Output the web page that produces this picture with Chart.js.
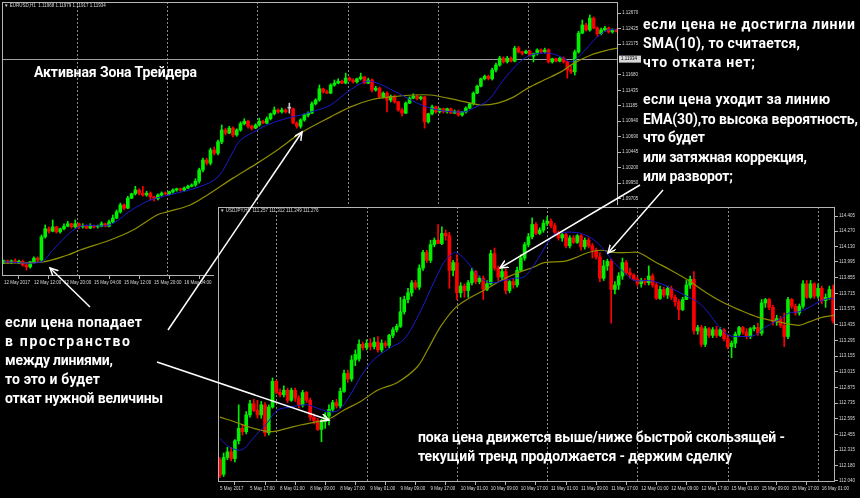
<!DOCTYPE html>
<html>
<head>
<meta charset="utf-8">
<script src="https://cdn.jsdelivr.net/npm/chart.js@4.4.1/dist/chart.umd.min.js"></script>
<style>
  html, body { margin: 0; padding: 0; background: #000; }
  #wrap { position: relative; width: 860px; height: 498px; overflow: hidden; background: #000; }
  #eur { position: absolute; left: 0; top: 0; }
  #jpy { position: absolute; left: 214px; top: 205px; background: #000; }
  #notes { position: absolute; left: 0; top: 0; }
  #notes text { font-family: Roboto, sans-serif; font-weight: 700; font-size: 14px; fill: #fff; }
</style>
</head>
<body>
<div id="wrap">
  <canvas id="eur" width="662" height="292"></canvas>
  <canvas id="jpy" width="646" height="293"></canvas>
  <svg id="notes" width="860" height="498">
    <defs>
      <marker id="head" markerWidth="10" markerHeight="10" refX="8" refY="4" orient="auto" markerUnits="userSpaceOnUse">
        <path d="M0,0 L8,4 L0,8" fill="none" stroke="#fff" stroke-width="1.5"/>
      </marker>
    </defs>
    <g stroke="#fff" stroke-width="1.5" marker-end="url(#head)">
      <line x1="90" y1="307" x2="50" y2="268"/>
      <line x1="168" y1="330" x2="302" y2="132"/>
      <line x1="157" y1="362" x2="329" y2="420"/>
      <line x1="640" y1="185" x2="500" y2="268"/>
      <line x1="663" y1="190" x2="608" y2="253"/>
    </g>
    <text x="34" y="77" textLength="163" lengthAdjust="spacing">Активная Зона Трейдера</text>

    <text x="643" y="29" textLength="212" lengthAdjust="spacing">если цена не достигла линии</text>
    <text x="643" y="48" textLength="157" lengthAdjust="spacing">SMA(10), то считается,</text>
    <text x="643" y="67" textLength="112" lengthAdjust="spacing">что отката нет;</text>
    <text x="643" y="104" textLength="187" lengthAdjust="spacing">если цена уходит за линию</text>
    <text x="643" y="124" textLength="215" lengthAdjust="spacing">EMA(30),то высока вероятность,</text>
    <text x="643" y="142" textLength="62" lengthAdjust="spacing">что будет</text>
    <text x="643" y="162" textLength="164" lengthAdjust="spacing">или затяжная коррекция,</text>
    <text x="643" y="181" textLength="90" lengthAdjust="spacing">или разворот;</text>

    <text x="5" y="327" textLength="137" lengthAdjust="spacing">если цена попадает</text>
    <text x="5" y="346" textLength="125" lengthAdjust="spacing">в пространство</text>
    <text x="5" y="365" textLength="108" lengthAdjust="spacing">между линиями,</text>
    <text x="5" y="384" textLength="95" lengthAdjust="spacing">то это и будет</text>
    <text x="5" y="403" textLength="158" lengthAdjust="spacing">откат нужной величины</text>

    <text x="418" y="442" textLength="367" lengthAdjust="spacing">пока цена движется выше/ниже быстрой скользящей -</text>
    <text x="418" y="461" textLength="314" lengthAdjust="spacing">текущий тренд продолжается - держим сделку</text>
  </svg>
</div>
<script>
// EURUSD H1, one value per bar
const eurOpen = [
  1.0869,1.0870,1.0869,1.0870,1.0867,1.0870,1.0864,1.0861,1.0869,1.0875,
  1.0872,1.0909,1.0922,1.0918,1.0925,1.0917,1.0922,1.0926,1.0930,1.0925,
  1.0930,1.0925,1.0926,1.0923,1.0926,1.0925,1.0926,1.0930,1.0926,1.0933,
  1.0939,1.0949,1.0960,1.0955,1.0971,1.0978,1.0984,1.0979,1.0976,1.0979,
  1.0973,1.0970,1.0976,1.0979,1.0978,1.0981,1.0984,1.0986,1.0984,1.0987,
  1.0990,1.0992,1.0998,1.1016,1.1032,1.1027,1.1048,1.1043,1.1061,1.1080,
  1.1075,1.1083,1.1072,1.1080,1.1090,1.1094,1.1086,1.1083,1.1088,1.1094,
  1.1091,1.1098,1.1106,1.1112,1.1109,1.1112,1.1115,1.1114,1.1091,1.1086,
  1.1096,1.1104,1.1107,1.1122,1.1128,1.1146,1.1141,1.1139,1.1152,1.1155,
  1.1158,1.1155,1.1163,1.1160,1.1157,1.1162,1.1165,1.1155,1.1160,1.1144,
  1.1147,1.1133,1.1139,1.1128,1.1134,1.1125,1.1112,1.1107,1.1123,1.1131,
  1.1134,1.1130,1.1133,1.1093,1.1106,1.1117,1.1109,1.1114,1.1109,1.1114,
  1.1107,1.1110,1.1104,1.1109,1.1115,1.1122,1.1139,1.1150,1.1162,1.1166,
  1.1162,1.1176,1.1184,1.1195,1.1189,1.1195,1.1190,1.1211,1.1205,1.1203,
  1.1206,1.1198,1.1202,1.1208,1.1205,1.1208,1.1189,1.1194,1.1190,1.1195,
  1.1189,1.1176,1.1173,1.1205,1.1235,1.1248,1.1240,1.1259,1.1243,1.1234,
  1.1240,1.1243,1.1237,1.1240
];
const eurHigh = [
  1.0872,1.0872,1.0872,1.0874,1.0872,1.0872,1.0866,1.0870,1.0877,1.0877,
  1.0912,1.0928,1.0925,1.0936,1.0926,1.0923,1.0930,1.0934,1.0931,1.0936,
  1.0931,1.0930,1.0928,1.0930,1.0928,1.0928,1.0933,1.0931,1.0936,1.0944,
  1.0952,1.0963,1.0962,1.0974,1.0979,1.0990,1.0986,1.0990,1.0982,1.0981,
  1.0974,1.0978,1.0981,1.0981,1.0982,1.0986,1.0987,1.0987,1.0989,1.0992,
  1.0994,1.1002,1.1019,1.1035,1.1035,1.1051,1.1053,1.1064,1.1088,1.1083,
  1.1086,1.1085,1.1082,1.1093,1.1098,1.1096,1.1088,1.1090,1.1099,1.1096,
  1.1101,1.1107,1.1117,1.1114,1.1115,1.1114,1.1123,1.1115,1.1093,1.1098,
  1.1106,1.1109,1.1125,1.1130,1.1152,1.1147,1.1144,1.1154,1.1160,1.1162,
  1.1160,1.1171,1.1165,1.1162,1.1163,1.1171,1.1166,1.1163,1.1162,1.1150,
  1.1149,1.1141,1.1141,1.1136,1.1136,1.1126,1.1115,1.1125,1.1133,1.1138,
  1.1136,1.1134,1.1134,1.1107,1.1120,1.1118,1.1115,1.1115,1.1115,1.1115,
  1.1112,1.1112,1.1110,1.1117,1.1123,1.1141,1.1152,1.1163,1.1168,1.1168,
  1.1179,1.1187,1.1198,1.1197,1.1198,1.1197,1.1214,1.1214,1.1206,1.1208,
  1.1208,1.1203,1.1210,1.1210,1.1211,1.1210,1.1195,1.1195,1.1197,1.1197,
  1.1190,1.1182,1.1208,1.1238,1.1256,1.1251,1.1264,1.1261,1.1245,1.1243,
  1.1246,1.1245,1.1242,1.1242
];
const eurLow = [
  1.0866,1.0867,1.0866,1.0867,1.0866,1.0862,1.0856,1.0859,1.0867,1.0869,
  1.0870,1.0907,1.0915,1.0917,1.0915,1.0915,1.0920,1.0925,1.0923,1.0923,
  1.0922,1.0923,1.0922,1.0922,1.0923,1.0923,1.0925,1.0925,1.0925,1.0931,
  1.0938,1.0947,1.0952,1.0954,1.0970,1.0976,1.0976,1.0974,1.0974,1.0968,
  1.0966,1.0968,1.0974,1.0976,1.0976,1.0979,1.0982,1.0982,1.0982,1.0986,
  1.0989,1.0990,1.0995,1.1013,1.1024,1.1024,1.1040,1.1040,1.1058,1.1072,
  1.1074,1.1069,1.1070,1.1078,1.1088,1.1083,1.1080,1.1082,1.1086,1.1090,
  1.1090,1.1096,1.1104,1.1107,1.1107,1.1107,1.1107,1.1090,1.1083,1.1083,
  1.1094,1.1101,1.1106,1.1120,1.1126,1.1139,1.1138,1.1138,1.1150,1.1154,
  1.1154,1.1154,1.1158,1.1155,1.1155,1.1160,1.1154,1.1154,1.1141,1.1142,
  1.1131,1.1131,1.1109,1.1125,1.1123,1.1110,1.1102,1.1106,1.1122,1.1130,
  1.1128,1.1128,1.1083,1.1091,1.1104,1.1107,1.1107,1.1107,1.1107,1.1106,
  1.1106,1.1102,1.1102,1.1107,1.1114,1.1120,1.1138,1.1149,1.1160,1.1160,
  1.1160,1.1173,1.1182,1.1187,1.1187,1.1189,1.1189,1.1203,1.1200,1.1202,
  1.1198,1.1189,1.1200,1.1203,1.1203,1.1187,1.1187,1.1189,1.1189,1.1187,
  1.1163,1.1170,1.1168,1.1203,1.1234,1.1238,1.1238,1.1242,1.1230,1.1232,
  1.1238,1.1235,1.1235,1.1237
];
const eurClose = [
  1.0870,1.0869,1.0870,1.0869,1.0870,1.0864,1.0861,1.0869,1.0875,1.0872,
  1.0909,1.0922,1.0918,1.0925,1.0917,1.0922,1.0926,1.0930,1.0925,1.0930,
  1.0925,1.0926,1.0923,1.0926,1.0925,1.0926,1.0930,1.0926,1.0933,1.0939,
  1.0949,1.0960,1.0955,1.0971,1.0978,1.0984,1.0979,1.0976,1.0979,1.0973,
  1.0970,1.0976,1.0979,1.0978,1.0981,1.0984,1.0986,1.0984,1.0987,1.0990,
  1.0992,1.0998,1.1016,1.1032,1.1027,1.1048,1.1043,1.1061,1.1080,1.1075,
  1.1083,1.1072,1.1080,1.1090,1.1094,1.1086,1.1083,1.1088,1.1094,1.1091,
  1.1098,1.1106,1.1112,1.1109,1.1112,1.1109,1.1115,1.1091,1.1086,1.1096,
  1.1104,1.1107,1.1122,1.1128,1.1146,1.1141,1.1139,1.1152,1.1155,1.1158,
  1.1155,1.1163,1.1160,1.1157,1.1162,1.1165,1.1155,1.1160,1.1144,1.1147,
  1.1133,1.1139,1.1128,1.1134,1.1125,1.1112,1.1107,1.1123,1.1131,1.1134,
  1.1130,1.1133,1.1093,1.1106,1.1117,1.1109,1.1114,1.1109,1.1114,1.1107,
  1.1110,1.1104,1.1109,1.1115,1.1122,1.1139,1.1150,1.1162,1.1166,1.1162,
  1.1176,1.1184,1.1195,1.1189,1.1195,1.1190,1.1211,1.1205,1.1203,1.1206,
  1.1200,1.1202,1.1208,1.1205,1.1208,1.1189,1.1194,1.1190,1.1195,1.1189,
  1.1176,1.1173,1.1205,1.1235,1.1248,1.1240,1.1259,1.1243,1.1234,1.1240,
  1.1243,1.1237,1.1240,1.1238
];
// moving averages: [bar, value]
const eurSma10 = [
  [0,1.0869],[10,1.0869],[13,1.0888],[20,1.0925],[28,1.0928],[34,1.0952],[39,1.0968],[44,1.0976],
  [52,1.0989],[57,1.1005],[61,1.1045],[63,1.1064],[67.5,1.1080],[70,1.1088],[75.5,1.1099],[79,1.1104],
  [83.5,1.1112],[87,1.1120],[91.5,1.1141],[96,1.1157],[98.5,1.1157],[105,1.1139],[110,1.1123],
  [115.5,1.1112],[122.5,1.1109],[125,1.1115],[129,1.1128],[133,1.1160],[137,1.1187],[140.3,1.1200],
  [145,1.1203],[148.3,1.1197],[151,1.1189],[153,1.1197],[155.5,1.1213],[158,1.1229],[160.8,1.1240],[163,1.1240]
];
const eurEma30 = [
  [0,1.0867],[10.4,1.0869],[17,1.0880],[20.3,1.0888],[28.3,1.0904],[34.4,1.0920],[40.8,1.0944],
  [43.5,1.0949],[49.6,1.0960],[54.2,1.0976],[61,1.1003],[67.5,1.1027],[72.8,1.1048],[79,1.1075],
  [87,1.1101],[92.3,1.1117],[97.6,1.1128],[103,1.1133],[109,1.1136],[113.6,1.1136],[118.2,1.1131],
  [124.3,1.1123],[127,1.1120],[131.5,1.1123],[135.8,1.1133],[139.5,1.1147],[143.8,1.1160],
  [148.3,1.1173],[151.8,1.1187],[156.3,1.1200],[160.8,1.1208],[163.5,1.1211]
];
const eurTimeLabels = [
  "12 May 2017","12 May 12:00","12 May 20:00","15 May 04:00","15 May 12:00","15 May 20:00",
  "16 May 04:00","16 May 12:00","16 May 20:00","17 May 04:00","17 May 12:00","17 May 20:00",
  "18 May 04:00","18 May 12:00","18 May 20:00","19 May 04:00","19 May 12:00","19 May 20:00",
  "22 May 04:00","22 May 12:00","22 May 20:00"
];
const eurPriceTicks = [1.12670,1.12425,1.12175,1.11680,1.11435,1.11185,1.10940,1.10690,1.10445,
  1.10200,1.09950,1.09705,1.09460,1.09215,1.08965,1.08720,1.08475];
const eurGridBars = [19.5,43.5,67.5,91.5,115.5,139.5];
const eurLast = 1.11934;
const eurHeader = "\u25BC EURUSD,H1  1.11968 1.11979 1.11917 1.11934";

// USDJPY H1
const jpyOpen = [
  112.23,112.10,112.25,112.30,112.24,112.40,112.51,112.48,112.63,112.73,
  112.67,112.63,112.72,112.47,112.70,112.93,112.83,112.81,112.85,112.76,
  112.85,112.78,112.72,112.83,112.76,112.61,112.58,112.50,112.57,112.62,
  112.68,112.74,112.71,112.84,113.00,112.95,113.12,113.13,113.26,113.23,
  113.27,113.24,113.28,113.21,113.27,113.25,113.34,113.39,113.42,113.55,
  113.66,113.72,113.81,113.77,113.94,114.08,114.01,114.15,114.19,114.16,
  114.25,114.23,113.92,113.99,113.72,113.78,113.74,113.81,113.91,113.82,
  113.85,113.75,113.80,114.07,113.94,113.86,113.91,113.74,113.82,113.79,
  113.92,114.03,114.15,114.22,114.33,114.25,114.28,114.34,114.36,114.32,
  114.26,114.21,114.24,114.14,114.21,114.17,114.23,114.13,114.19,114.14,
  114.10,114.04,113.85,113.96,114.00,113.75,113.79,113.87,113.99,113.90,
  113.88,113.84,113.80,113.83,113.81,113.87,113.79,113.67,113.75,113.70,
  113.76,113.68,113.64,113.57,113.66,113.79,113.84,113.38,113.41,113.26,
  113.40,113.34,113.39,113.34,113.39,113.31,113.24,113.27,113.35,113.41,
  113.37,113.33,113.40,113.41,113.36,113.63,113.66,113.59,113.46,113.49,
  113.43,113.33,113.66,113.60,113.54,113.60,113.80,113.68,113.80,113.69,
  113.76,113.65,113.68,113.75
];
const jpyHigh = [
  112.25,112.29,112.34,112.34,112.41,112.72,112.54,112.66,112.76,112.77,
  112.76,112.75,112.74,112.72,112.96,112.94,112.86,112.89,112.87,112.87,
  112.87,112.80,112.85,112.84,112.78,112.64,112.60,112.59,112.65,112.72,
  112.76,112.77,112.87,113.03,113.03,113.16,113.21,113.30,113.28,113.30,
  113.31,113.32,113.33,113.30,113.29,113.35,113.41,113.44,113.68,113.69,
  113.76,113.83,113.83,113.97,114.10,114.10,114.19,114.21,114.33,114.31,
  114.28,114.26,114.01,114.06,113.81,113.80,113.83,113.94,113.92,113.87,
  113.87,113.83,114.10,114.12,113.96,113.94,113.93,113.83,113.85,113.95,
  114.06,114.17,114.25,114.39,114.35,114.30,114.37,114.40,114.38,114.34,
  114.27,114.25,114.25,114.23,114.23,114.24,114.24,114.21,114.21,114.16,
  114.12,114.08,114.01,114.02,114.02,113.82,113.90,114.03,114.01,113.94,
  113.89,113.86,113.85,113.85,113.96,113.89,113.81,113.78,113.77,113.78,
  113.78,113.70,113.66,113.68,113.83,113.87,113.91,113.43,113.43,113.42,
  113.41,113.41,113.42,113.41,113.40,113.35,113.29,113.37,113.42,113.42,
  113.40,113.41,113.43,113.45,113.66,113.67,113.67,113.61,113.52,113.51,
  113.54,113.68,113.67,113.62,113.62,113.83,113.83,113.83,113.81,113.80,
  113.78,113.71,113.78,113.79
];
const jpyLow = [
  112.07,112.08,112.23,112.22,112.21,112.37,112.45,112.46,112.61,112.66,
  112.60,112.60,112.44,112.45,112.69,112.82,112.79,112.79,112.74,112.75,
  112.75,112.69,112.70,112.74,112.58,112.55,112.49,112.39,112.51,112.54,
  112.66,112.69,112.69,112.83,112.92,112.93,113.07,113.11,113.21,113.21,
  113.21,113.22,113.19,113.19,113.23,113.23,113.32,113.37,113.41,113.53,
  113.63,113.69,113.75,113.75,113.92,113.99,113.99,114.13,114.16,114.15,
  114.19,113.76,113.87,113.66,113.68,113.68,113.68,113.79,113.80,113.80,
  113.66,113.74,113.79,113.92,113.83,113.84,113.71,113.72,113.76,113.77,
  113.91,114.01,114.13,114.20,114.24,114.24,114.26,114.32,114.30,114.24,
  114.19,114.18,114.12,114.12,114.16,114.16,114.10,114.11,114.12,114.03,
  114.02,113.82,113.83,113.92,113.45,113.71,113.75,113.84,113.88,113.85,
  113.83,113.78,113.77,113.79,113.79,113.77,113.66,113.66,113.68,113.67,
  113.66,113.60,113.48,113.56,113.66,113.76,113.35,113.35,113.24,113.24,
  113.32,113.32,113.32,113.33,113.29,113.22,113.14,113.23,113.33,113.35,
  113.31,113.31,113.38,113.34,113.34,113.59,113.57,113.43,113.43,113.41,
  113.24,113.31,113.58,113.52,113.52,113.58,113.67,113.67,113.67,113.67,
  113.62,113.59,113.66,113.45
];
const jpyClose = [
  112.09,112.25,112.30,112.24,112.40,112.51,112.48,112.63,112.73,112.67,
  112.63,112.72,112.47,112.70,112.93,112.83,112.81,112.85,112.76,112.85,
  112.78,112.72,112.83,112.76,112.61,112.58,112.50,112.57,112.62,112.68,
  112.74,112.71,112.84,113.00,112.95,113.12,113.17,113.26,113.23,113.27,
  113.24,113.28,113.21,113.27,113.25,113.34,113.39,113.42,113.55,113.66,
  113.72,113.81,113.77,113.94,114.08,114.01,114.15,114.19,114.16,114.25,
  114.23,113.92,113.99,113.72,113.78,113.74,113.81,113.91,113.82,113.85,
  113.75,113.80,114.07,113.94,113.86,113.91,113.74,113.82,113.79,113.92,
  114.03,114.15,114.22,114.33,114.25,114.28,114.34,114.36,114.32,114.26,
  114.21,114.24,114.14,114.21,114.17,114.23,114.13,114.19,114.14,114.10,
  114.04,113.85,113.96,114.00,113.75,113.79,113.87,113.99,113.90,113.88,
  113.84,113.80,113.83,113.81,113.87,113.79,113.67,113.75,113.70,113.76,
  113.68,113.64,113.57,113.66,113.79,113.84,113.38,113.41,113.26,113.40,
  113.34,113.39,113.34,113.39,113.31,113.24,113.27,113.35,113.41,113.37,
  113.33,113.40,113.41,113.36,113.63,113.66,113.59,113.46,113.49,113.43,
  113.33,113.66,113.60,113.54,113.60,113.80,113.68,113.80,113.69,113.76,
  113.65,113.68,113.75,113.47
];
const jpySma10 = [
  [0,112.42],[2.7,112.34],[5.9,112.32],[8.8,112.42],[12.6,112.56],[15.2,112.67],[18.7,112.70],
  [23.2,112.72],[25.9,112.69],[28.8,112.66],[31.5,112.67],[34.7,112.81],[37.4,112.97],[40.8,113.12],
  [45.3,113.23],[48.8,113.30],[52.5,113.50],[56,113.75],[59.5,113.99],[61.4,114.06],[62.7,114.08],
  [64.8,114.03],[67.5,113.92],[70.2,113.83],[72.8,113.81],[75.5,113.83],[78.2,113.85],[80.8,113.86],
  [83.5,113.97],[85.4,114.07],[88.8,114.24],[91.5,114.26],[94.2,114.26],[96.9,114.24],[99.5,114.19],
  [102.2,114.10],[104.8,113.99],[107.5,113.90],[110.2,113.83],[113.9,113.83],[116.6,113.81],
  [120,113.76],[123.5,113.70],[127.3,113.63],[129.9,113.54],[132.6,113.42],[135.3,113.34],
  [138.7,113.33],[142.2,113.34],[144.8,113.41],[148.6,113.48],[151.3,113.54],[153.9,113.55],
  [156.6,113.59],[159.3,113.64],[161.9,113.67],[163.5,113.66]
];
const jpyEma30 = [
  [0,112.61],[4.6,112.56],[8,112.52],[13.4,112.48],[17.9,112.51],[21.4,112.54],[25.9,112.57],
  [29.4,112.60],[32.8,112.67],[37.4,112.75],[41.9,112.85],[47.2,112.92],[52.5,113.06],[55.2,113.21],
  [58.7,113.42],[62.7,113.59],[66.7,113.68],[71.2,113.76],[74.7,113.83],[79.2,113.90],[83.5,113.95],
  [86.2,113.99],[91.5,114.00],[94.2,114.03],[97.9,114.08],[101.4,114.10],[104.8,114.08],
  [108.5,114.08],[111.2,114.08],[115.5,114.00],[120,113.92],[124.6,113.83],[128.9,113.73],
  [133.4,113.64],[137.9,113.57],[143.2,113.50],[148.6,113.46],[153.9,113.43],[156.6,113.46],
  [160,113.50],[163.5,113.52]
];
const jpyTimeLabels = [
  "5 May 2017","5 May 17:00","8 May 01:00","8 May 09:00","8 May 17:00","9 May 01:00","9 May 09:00",
  "9 May 17:00","10 May 01:00","10 May 09:00","10 May 17:00","11 May 01:00","11 May 09:00",
  "11 May 17:00","12 May 01:00","12 May 09:00","12 May 17:00","15 May 01:00","15 May 09:00",
  "15 May 17:00","16 May 01:00"
];
const jpyPriceTicks = [114.405,114.270,114.130,113.995,113.855,113.715,113.575,113.435,113.295,
  113.155,113.015,112.875,112.735,112.595,112.455,112.315,112.180,112.040];
const jpyGridBars = [15,39,63,87,111,135,159];
const jpyHeader = "\u25BC USDJPY,H1  111.257 111.312 111.249 111.276";

const UP = "#00f000", DOWN = "#ff0000", DOJI = "#c8c8c8";
const AXIS_TXT = "#d8d8d8", FRAME = "#b4b4b4", GRID = "#8c8c8c";
const TINY = { family: "Liberation Sans", size: 4.5 };

function decor(gridBars, header, lastPrice, digits) {
  return {
    id: "decor",
    beforeDatasetsDraw(chart) {
      const { ctx, chartArea: a, scales } = chart;
      ctx.save();
      ctx.strokeStyle = GRID;
      ctx.lineWidth = 1;
      ctx.setLineDash([2, 2]);
      gridBars.forEach(b => {
        const px = Math.round(scales.x.getPixelForValue(b)) + 0.5;
        ctx.beginPath(); ctx.moveTo(px, a.top); ctx.lineTo(px, a.bottom); ctx.stroke();
      });
      ctx.setLineDash([]);
      if (lastPrice != null) {
        const py = Math.round(scales.y.getPixelForValue(lastPrice)) + 0.5;
        ctx.strokeStyle = "#a0a0a0";
        ctx.beginPath(); ctx.moveTo(a.left, py); ctx.lineTo(a.right, py); ctx.stroke();
      }
      ctx.restore();
    },
    afterDraw(chart) {
      const { ctx, chartArea: a, scales } = chart;
      ctx.save();
      ctx.strokeStyle = FRAME;
      ctx.lineWidth = 1;
      ctx.strokeRect(Math.round(a.left) + 0.5, Math.round(a.top) + 0.5,
        Math.round(a.width) - 1, Math.round(a.height) - 1);
      ctx.font = '4.5px "Liberation Sans", "DejaVu Sans"';
      ctx.textBaseline = "middle";
      ctx.fillStyle = AXIS_TXT;
      ctx.fillText(header, a.left + 2, a.top + 4);
      if (lastPrice != null) {
        const py = scales.y.getPixelForValue(lastPrice);
        ctx.fillStyle = "#d8d8d8";
        ctx.fillRect(a.right + 1, py - 3.5, 22, 7);
        ctx.fillStyle = "#000";
        ctx.fillText(lastPrice.toFixed(digits), a.right + 3, py);
      }
      ctx.restore();
    }
  };
}

function candleChart(id, o, h, l, c, sma, ema, cfg) {
  const col = c.map((v, i) => v > o[i] ? UP : v < o[i] ? DOWN : DOJI);
  return new Chart(document.getElementById(id), {
    type: "bar",
    data: {
      datasets: [
        { type: "line", label: "SMA(10)", data: sma.map(([x, y]) => ({ x, y })),
          borderColor: "#1a1ad0", borderWidth: 1, pointRadius: 0, tension: 0.35, order: 0 },
        { type: "line", label: "EMA(30)", data: ema.map(([x, y]) => ({ x, y })),
          borderColor: "#8e8e00", borderWidth: 1.2, pointRadius: 0, tension: 0.35, order: 0 },
        { label: "body", data: o.map((v, i) => ({ x: i, y: [v, c[i]] })),
          backgroundColor: col, barThickness: 3, minBarLength: 1, grouped: false, order: 1 },
        { label: "wick", data: l.map((v, i) => ({ x: i, y: [v, h[i]] })),
          backgroundColor: col, barThickness: 1, grouped: false, order: 2 }
      ]
    },
    options: {
      responsive: false,
      animation: false,
      events: [],
      layout: { padding: { left: cfg.padLeft, top: 2, right: 0, bottom: 0 } },
      plugins: { legend: { display: false }, tooltip: { enabled: false } },
      scales: {
        x: {
          type: "linear", min: -0.5, max: o.length - 0.5, offset: false,
          afterBuildTicks: s => { s.ticks = cfg.times.map((t, k) => ({ value: k * 8 })); },
          afterFit: s => { s.height = 16; s.paddingLeft = 0; s.paddingRight = 0; },
          ticks: { autoSkip: false, maxRotation: 0, minRotation: 0, align: "start", padding: 1,
            color: AXIS_TXT, font: TINY, callback: v => cfg.times[v / 8] },
          grid: { drawOnChartArea: false, drawTicks: true, tickLength: 3, color: FRAME },
          border: { display: false }
        },
        y: {
          position: "right", min: cfg.min, max: cfg.max,
          afterBuildTicks: s => { s.ticks = cfg.prices.map(v => ({ value: v })); },
          afterFit: s => { s.width = cfg.axisW; s.paddingTop = 0; s.paddingBottom = 0; },
          ticks: { autoSkip: false, padding: 1, color: AXIS_TXT, font: TINY,
            callback: v => v.toFixed(cfg.digits) },
          grid: { drawOnChartArea: false, drawTicks: true, tickLength: 3, color: FRAME },
          border: { display: false }
        }
      }
    },
    plugins: [decor(cfg.grid, cfg.header, cfg.last, cfg.digits)]
  });
}

candleChart("eur", eurOpen, eurHigh, eurLow, eurClose, eurSma10, eurEma30, {
  padLeft: 2, axisW: 44, min: 1.08464, max: 1.12848, digits: 5,
  times: eurTimeLabels, prices: eurPriceTicks, grid: eurGridBars, header: eurHeader, last: eurLast
});
candleChart("jpy", jpyOpen, jpyHigh, jpyLow, jpyClose, jpySma10, jpyEma30, {
  padLeft: 4, axisW: 25, min: 112.031, max: 114.486, digits: 3,
  times: jpyTimeLabels, prices: jpyPriceTicks, grid: jpyGridBars, header: jpyHeader, last: null
});
</script>
</body>
</html>
